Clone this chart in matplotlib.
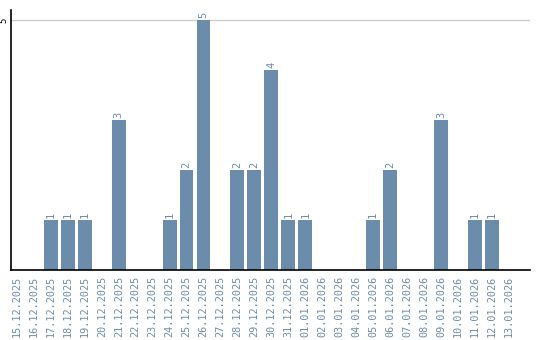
import matplotlib
matplotlib.use("Agg")
import matplotlib.pyplot as plt

dates = ["15.12.2025", "16.12.2025", "17.12.2025", "18.12.2025", "19.12.2025",
         "20.12.2025", "21.12.2025", "22.12.2025", "23.12.2025", "24.12.2025",
         "25.12.2025", "26.12.2025", "27.12.2025", "28.12.2025", "29.12.2025",
         "30.12.2025", "31.12.2025", "01.01.2026", "02.01.2026", "03.01.2026",
         "04.01.2026", "05.01.2026", "06.01.2026", "07.01.2026", "08.01.2026",
         "09.01.2026", "10.01.2026", "11.01.2026", "12.01.2026", "13.01.2026"]
counts = [0, 0, 1, 1, 1, 0, 3, 0, 0, 1, 2, 5, 0, 2, 2,
          4, 1, 1, 0, 0, 0, 1, 2, 0, 0, 3, 0, 1, 1, 0]

bar_color = "#6b8cab"
fig = plt.figure(figsize=(5.4, 3.4), dpi=100)
ax = fig.add_axes([11 / 540, 70 / 340, 519 / 540, 260 / 340])

x = list(range(len(dates)))
bars = ax.bar(x, counts, width=0.82, color=bar_color, zorder=2)

for xi, v in zip(x, counts):
    if v > 0:
        ax.text(xi, v + 0.04, str(v), rotation=90, ha="center", va="bottom",
                fontsize=7.5, color=bar_color, family="DejaVu Sans Mono")

ax.set_xlim(-0.35, 30.25)
ax.set_ylim(0, 5.2)
ax.set_yticks([5])
ax.set_yticklabels([])
ax.text(-0.013, 5, "5", rotation=90, ha="center", va="center", fontsize=6.5,
        family="DejaVu Sans Mono", transform=ax.get_yaxis_transform())
ax.yaxis.grid(True, color="#cccccc", linewidth=1, zorder=0)
ax.tick_params(axis="y", length=0, pad=0)

ax.set_xticks(x)
ax.set_xticklabels(dates, rotation=90, fontsize=7.3, color=bar_color,
                   family="DejaVu Sans Mono")
ax.tick_params(axis="x", length=0, pad=4)

for s in ["top", "right"]:
    ax.spines[s].set_visible(False)
ax.spines["left"].set_linewidth(1.2)
ax.spines["bottom"].set_linewidth(1.2)

fig.savefig("out.png", dpi=100)
